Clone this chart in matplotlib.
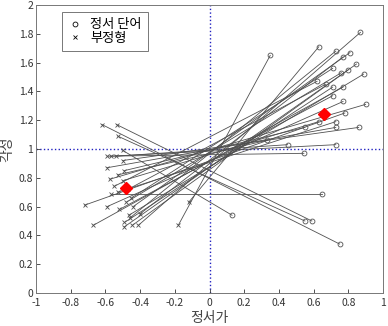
import matplotlib
matplotlib.use("Agg")
import matplotlib.pyplot as plt

plt.rcParams['font.family'] = ['Noto Sans CJK KR', 'DejaVu Sans']

# negated-form (x) points
neg_x = [-0.62, -0.536, -0.53, -0.50, -0.59, -0.57, -0.54, -0.50, -0.59, -0.49,
         -0.575, -0.50, -0.57, -0.53, -0.72, -0.59, -0.52, -0.465, -0.67, -0.49,
         -0.49, -0.445, -0.41, -0.18, -0.12, -0.46, -0.40, -0.44, -0.48, -0.45,
         -0.55, -0.47, -0.53]
neg_y = [1.17, 1.17, 1.09, 0.99, 0.95, 0.95, 0.95, 0.92, 0.87, 0.85,
         0.79, 0.78, 0.69, 0.70, 0.61, 0.60, 0.58, 0.54, 0.47, 0.49,
         0.46, 0.47, 0.47, 0.47, 0.63, 0.52, 0.55, 0.60, 0.63, 0.66,
         0.74, 0.72, 0.82]
# emotion-word (o) points
emo_x = [0.75, 0.59, 0.55, 0.13, 0.544, 0.728, 0.45, 0.86, 0.728, 0.55,
         0.90, 0.63, 0.65, 0.728, 0.78, 0.77, 0.71, 0.888, 0.77, 0.71,
         0.847, 0.80, 0.87, 0.35, 0.63, 0.728, 0.77, 0.81, 0.76, 0.71,
         0.62, 0.67, 0.33]
emo_y = [0.34, 0.50, 0.50, 0.54, 0.97, 1.03, 1.03, 1.15, 1.15, 1.15,
         1.31, 1.19, 0.69, 1.19, 1.25, 1.33, 1.37, 1.52, 1.43, 1.43,
         1.59, 1.55, 1.81, 1.65, 1.71, 1.68, 1.64, 1.67, 1.53, 1.56,
         1.47, 1.45, 1.06]
# mean points
mean_x = [-0.48, 0.66]
mean_y = [0.73, 1.24]

xticks = [-1, -0.8, -0.6, -0.4, -0.2, 0, 0.2, 0.4, 0.6, 0.8, 1]
yticks = [0, 0.2, 0.4, 0.6, 0.8, 1, 1.2, 1.4, 1.6, 1.8, 2]
xlabels = ['-1', '-0.8', '-0.6', '-0.4', '-0.2', '0', '0.2', '0.4', '0.6', '0.8', '1']
ylabels = ['0', '0.2', '0.4', '0.6', '0.8', '1', '1.2', '1.4', '1.6', '1.8', '2']

fig = plt.figure(figsize=(3.88, 3.26), dpi=100)
ax = fig.add_axes([36/388, (326-293)/326, (383-36)/388, (293-5)/326])

lc = '#505050'
for xa, ya, xb, yb in zip(neg_x, neg_y, emo_x, emo_y):
    ax.plot([xa, xb], [ya, yb], color=lc, lw=0.6, zorder=2)
ax.plot(neg_x, neg_y, 'x', color=lc, ms=3.5, mew=0.6, zorder=3)
ax.plot(emo_x, emo_y, 'o', mfc='none', mec=lc, ms=3.5, mew=0.6, zorder=3)

ax.axvline(0, color='#2020c0', ls=':', lw=1.0, zorder=1)
ax.axhline(1, color='#2020c0', ls=':', lw=1.0, zorder=1)

ax.plot(mean_x, mean_y, 'D', color='red', ms=6, zorder=4)

# legend
h1, = ax.plot([], [], 'o', mfc='none', mec='black', ms=3.5, mew=0.6)
h2, = ax.plot([], [], 'x', color='black', ms=3.5, mew=0.6)
leg = ax.legend([h1, h2], ['정서 단어', '부정형'], loc='upper left',
                bbox_to_anchor=(0.075, 0.975), fontsize=9.5, frameon=True,
                fancybox=False, handlelength=1.0, handletextpad=0.7,
                borderpad=0.45, labelspacing=0.05, borderaxespad=0)
leg.get_frame().set_edgecolor('#555555')
leg.get_frame().set_linewidth(0.7)

ax.set_xlim(-1, 1)
ax.set_ylim(0, 2)
ax.set_xticks(xticks)
ax.set_xticklabels(xlabels)
ax.set_yticks(yticks)
ax.set_yticklabels(ylabels)
ax.tick_params(direction='in', length=3, width=0.6, labelsize=7.5,
               colors='#333333', pad=2)
ax.tick_params(axis='x', pad=3.5)
for s in ax.spines.values():
    s.set_color('#777777')
    s.set_linewidth(0.7)

ax.set_xlabel('정서가', fontsize=10, color='#444444', labelpad=2)
ax.set_ylabel('각성', fontsize=10, color='#444444', labelpad=3)

fig.savefig('out.png', dpi=100)
